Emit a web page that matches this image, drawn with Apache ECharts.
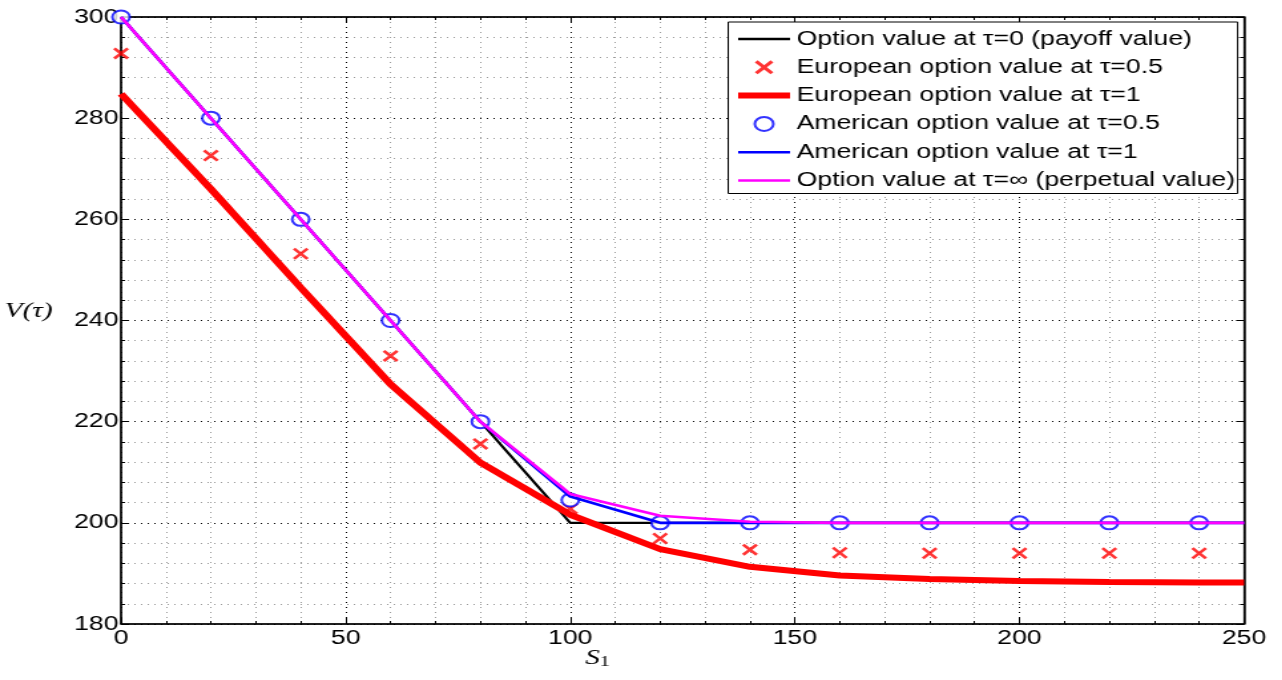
<!DOCTYPE html>
<html>
<head>
<meta charset="utf-8">
<script src="https://cdn.jsdelivr.net/npm/echarts@6/dist/echarts.min.js"></script>
<style>
  html, body { margin: 0; padding: 0; background: #fff; overflow: hidden; }
  /* the figure is laid out narrow and stretched horizontally */
  #chart { width: 964px; height: 680px; transform: scaleX(1.33); transform-origin: 0 0; }
</style>
</head>
<body>
<div id="chart"></div>
<script>
// Asset price grid S1 (line samples) and marker positions
const sLine = [0, 20, 40, 60, 80, 100, 120, 140, 160, 180, 200, 220, 240, 250];
const sMark = [0, 20, 40, 60, 80, 100, 120, 140, 160, 180, 200, 220, 240];

// Option value at tau = 0 (payoff)
const payoffS = [0, 100, 250];
const payoffV = [300, 200, 200];

// European option values
const europeanHalf = [292.8, 272.6, 253.2, 233.0, 215.6, 202.8, 196.9, 194.7, 194.1, 194.0, 194.0, 194.0, 194.0];
const europeanOne = [284.8, 266.0, 246.5, 227.4, 211.9, 201.6, 194.8, 191.3, 189.6, 188.9, 188.5, 188.3, 188.2, 188.2];

// American option values
const americanHalf = [300, 280, 260, 240, 220, 204.5, 200, 200, 200, 200, 200, 200, 200];
const americanOne = [300, 280, 260, 240, 220, 205.2, 200, 200, 200, 200, 200, 200, 200, 200];

// Perpetual option value
const perpetual = [300, 280, 260, 240, 220, 205.7, 201.4, 200.2, 200, 200, 200, 200, 200, 200];

// Axis ticks
const xTicks = { min: 0, max: 250, interval: 50 };
const yTicks = { min: 180, max: 300, interval: 20 };

const seriesNames = [
  'Option value at \u03c4=0 (payoff value)',
  'European option value at \u03c4=0.5',
  'European option value at \u03c4=1',
  'American option value at \u03c4=0.5',
  'American option value at \u03c4=1',
  'Option value at \u03c4=\u221e (perpetual value)'
];

const pair = (xs, ys) => ys.map((v, i) => [xs[i], v]);

const FONT = 'Liberation Sans, Arial, Helvetica, sans-serif';
const SERIF = '"Liberation Serif", "DejaVu Serif", serif';
const crossPath = 'path://M0,1.5L1.5,0L5,3.5L8.5,0L10,1.5L6.5,5L10,8.5L8.5,10L5,6.5L1.5,10L0,8.5L3.5,5Z';
// legend line samples: the two bare moves fix the icon box, the bar is the stroke
const thinIcon = 'path://M0,0M39,14M0,5.8L39,5.8L39,8.2L0,8.2Z';
const thickIcon = 'path://M0,0M39,14M0,4L39,4L39,10L0,10Z';

const majorGrid = { show: true, lineStyle: { color: '#000', width: 1, type: [1, 4] } };
const minorGrid = { show: true, lineStyle: { color: '#9a9a9a', width: 1, type: [1, 4] } };

function valueAxis(base, opts) {
  return Object.assign({
    type: 'value',
    min: base.min, max: base.max, interval: base.interval,
    axisLine: { show: true, onZero: false, lineStyle: { color: '#000', width: 1.5 } },
    axisTick: { show: true, inside: true, length: 6, lineStyle: { color: '#000' } },
    minorTick: { show: true, splitNumber: 5, length: 3, lineStyle: { color: '#000' } }
  }, opts);
}

const chart = echarts.init(document.getElementById('chart'), null, { renderer: 'canvas' });

chart.setOption({
  animation: false,
  backgroundColor: '#fff',
  grid: { left: 91, right: 28.6, top: 17, bottom: 56, show: true, borderColor: '#000', borderWidth: 1 },
  xAxis: [
    valueAxis(xTicks, {
      position: 'bottom',
      axisLabel: { color: '#000', fontFamily: FONT, fontSize: 20, margin: 4 },
      splitLine: majorGrid,
      minorSplitLine: minorGrid
    }),
    valueAxis(xTicks, {
      position: 'top',
      axisLabel: { show: false },
      splitLine: { show: false }
    })
  ],
  yAxis: [
    valueAxis(yTicks, {
      position: 'left',
      axisLabel: { color: '#000', fontFamily: FONT, fontSize: 20, margin: 2 },
      splitLine: majorGrid,
      minorSplitLine: minorGrid
    }),
    valueAxis(yTicks, {
      position: 'right',
      axisLabel: { show: false },
      splitLine: { show: false }
    })
  ],
  legend: {
    orient: 'vertical',
    left: 547.5,
    top: 22,
    backgroundColor: '#fff',
    borderColor: '#000',
    borderWidth: 1,
    borderRadius: 0,
    padding: [7, 2, 3, 7.5],
    itemWidth: 39,
    itemHeight: 14,
    itemGap: 8.3,
    textStyle: { color: '#000', fontFamily: FONT, fontSize: 20 },
    data: [
      { name: seriesNames[0], icon: thinIcon },
      { name: seriesNames[1] },
      { name: seriesNames[2], icon: thickIcon },
      { name: seriesNames[3] },
      { name: seriesNames[4], icon: thinIcon },
      { name: seriesNames[5], icon: thinIcon }
    ]
  },
  graphic: [
    {
      type: 'text', left: 3.5, top: 300,
      style: { text: 'V(\u03c4)', font: 'italic 22px ' + SERIF, fill: '#000' }
    },
    {
      type: 'text', left: 440, top: 647,
      style: {
        text: '{s|S}{n|1}',
        fill: '#000',
        rich: {
          s: { font: 'italic 22px ' + SERIF, fill: '#000' },
          n: { font: '15px ' + SERIF, fill: '#000', padding: [9, 0, 0, 0] }
        }
      }
    }
  ],
  series: [
    {
      name: seriesNames[0], type: 'line', data: pair(payoffS, payoffV),
      symbol: 'none', lineStyle: { color: '#000', width: 2.2 }, itemStyle: { color: '#000' }, z: 2
    },
    {
      name: seriesNames[1], type: 'scatter', data: pair(sMark, europeanHalf),
      symbol: crossPath, symbolSize: [12, 12], itemStyle: { color: '#ff0000' }, clip: false, z: 3
    },
    {
      name: seriesNames[2], type: 'line', data: pair(sLine, europeanOne),
      symbol: 'none', lineStyle: { color: '#ff0000', width: 6 }, itemStyle: { color: '#ff0000' }, z: 4
    },
    {
      name: seriesNames[3], type: 'scatter', data: pair(sMark, americanHalf),
      symbol: 'emptyCircle', symbolSize: 13,
      itemStyle: { color: '#0000ff', borderColor: '#0000ff', borderWidth: 3 }, clip: false, z: 5
    },
    {
      name: seriesNames[4], type: 'line', data: pair(sLine, americanOne),
      symbol: 'none', lineStyle: { color: '#0000ff', width: 2.6 }, itemStyle: { color: '#0000ff' }, z: 6
    },
    {
      name: seriesNames[5], type: 'line', data: pair(sLine, perpetual),
      symbol: 'none', lineStyle: { color: '#ff00ff', width: 2.6 }, itemStyle: { color: '#ff00ff' }, z: 7
    }
  ]
});
</script>
</body>
</html>
